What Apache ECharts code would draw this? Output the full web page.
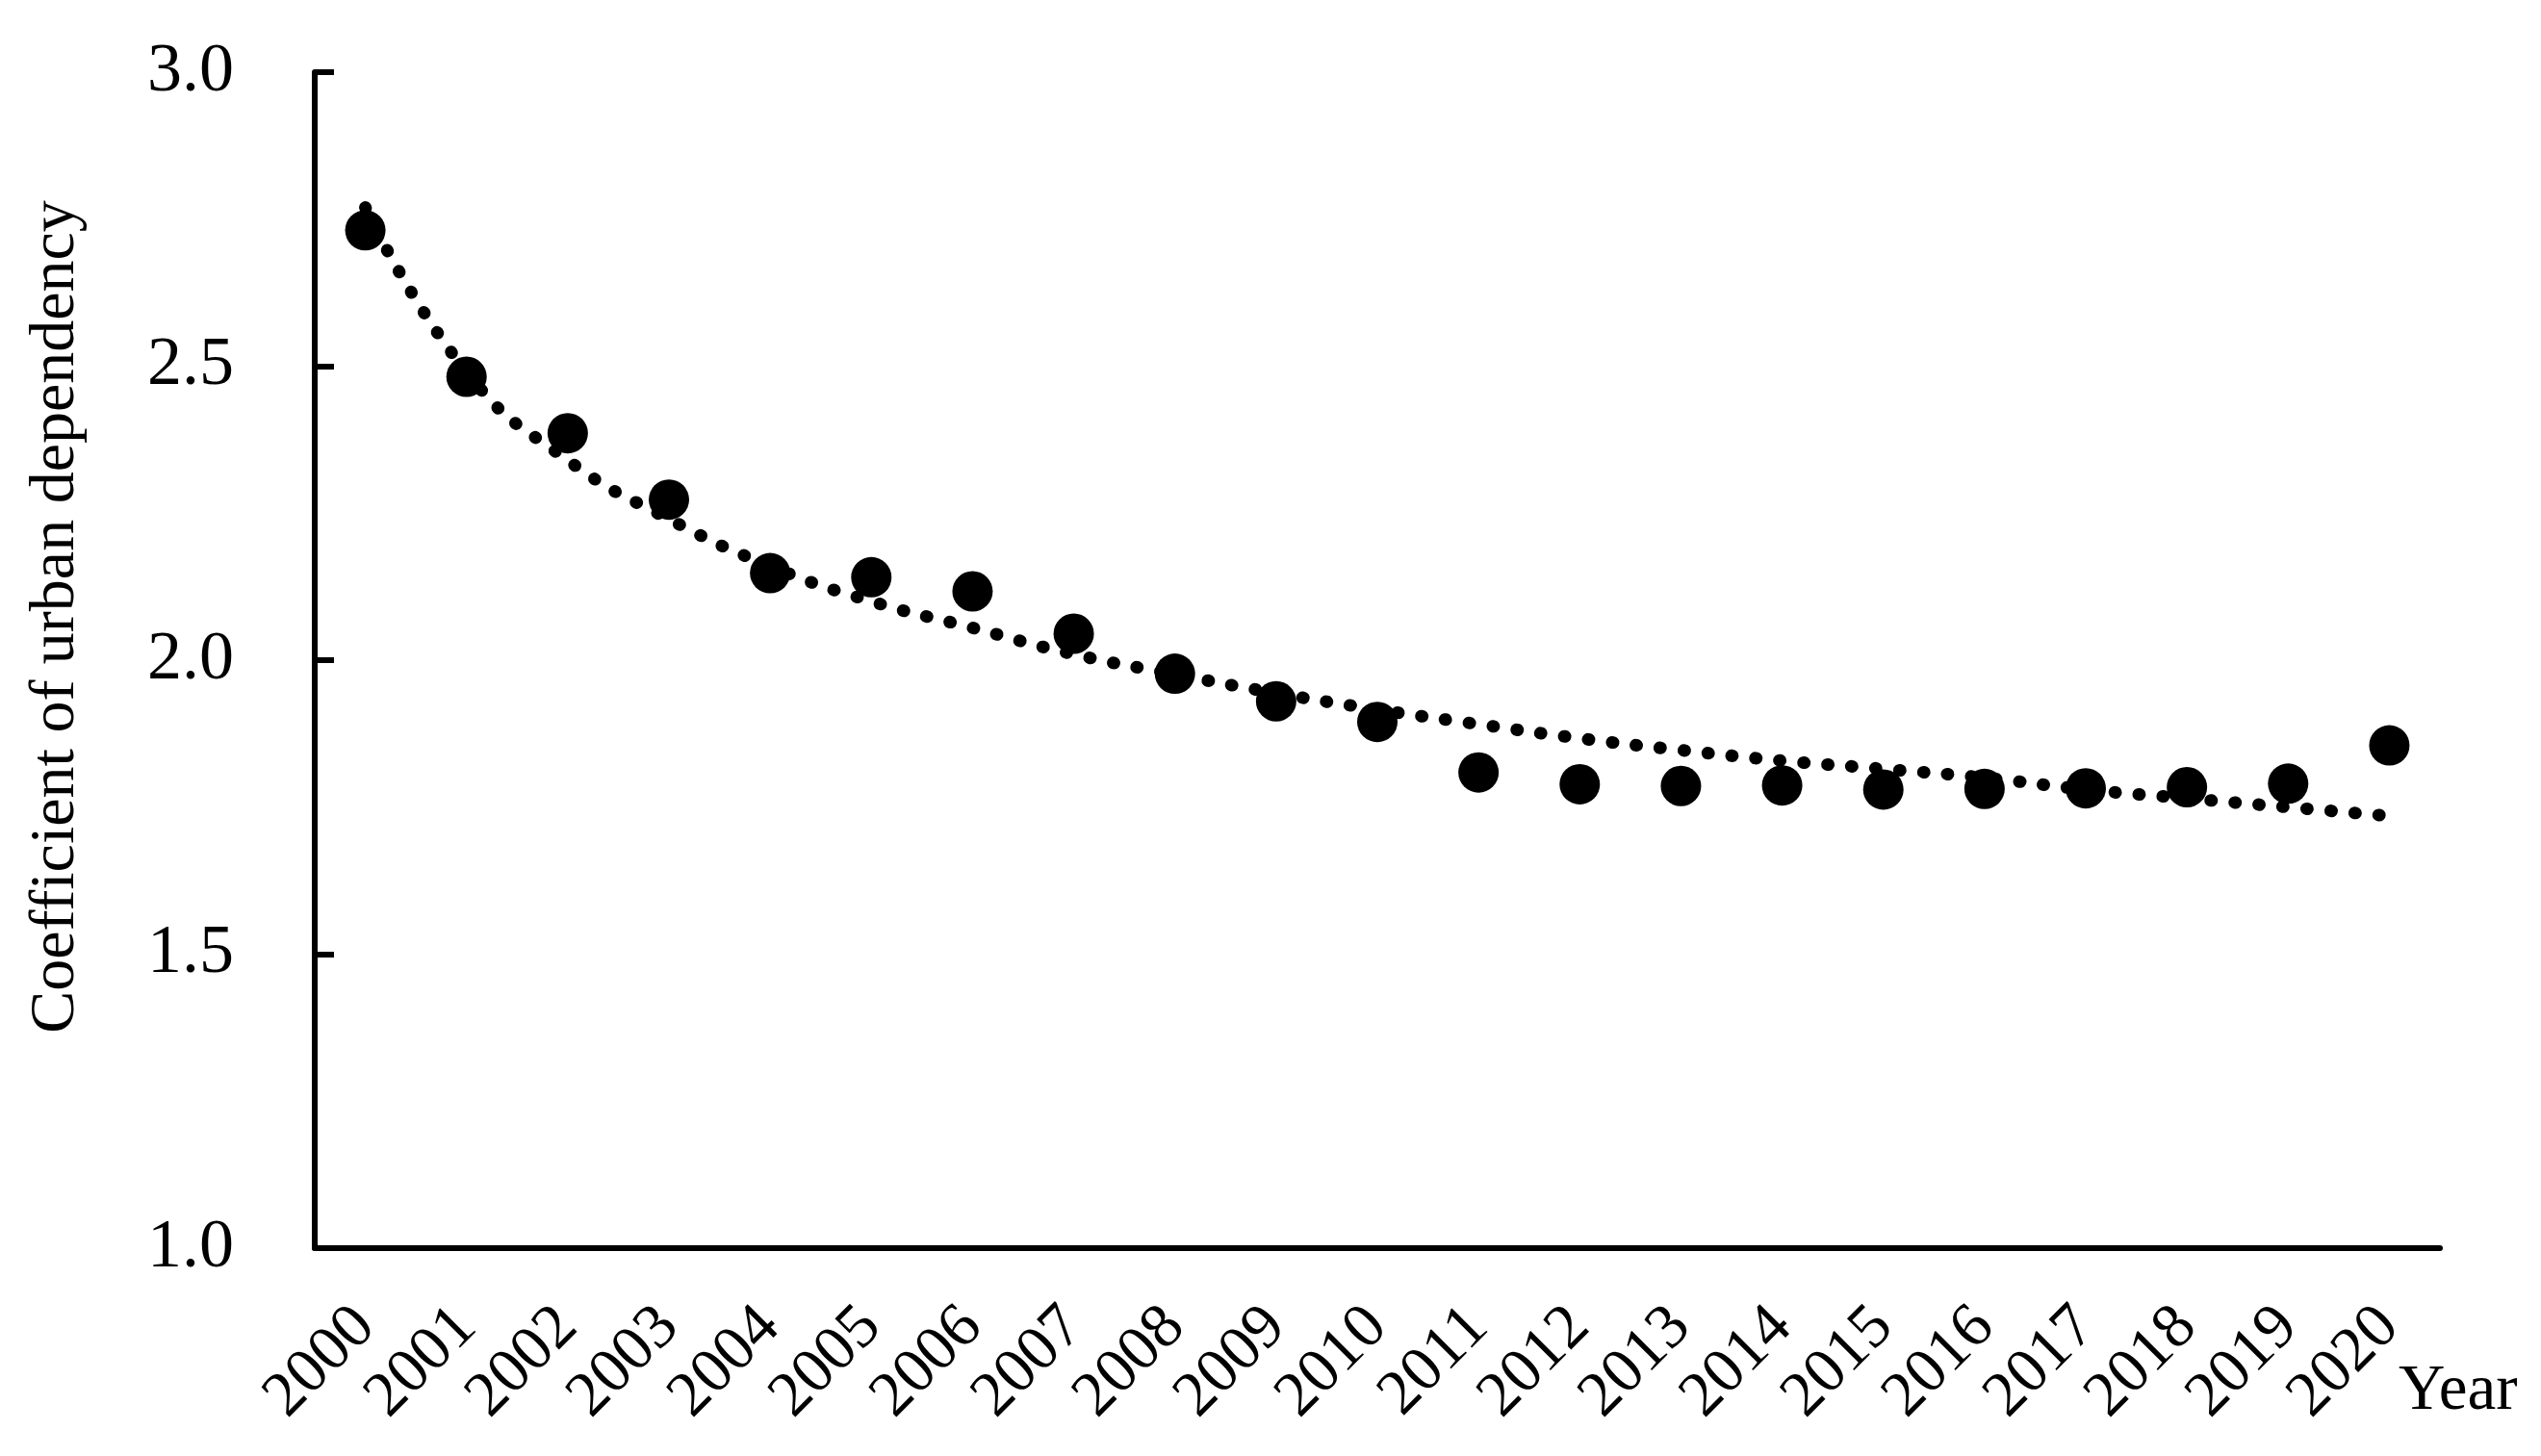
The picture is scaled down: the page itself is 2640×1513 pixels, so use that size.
<!DOCTYPE html>
<html>
<head>
<meta charset="utf-8">
<title>Coefficient of urban dependency</title>
<script src="https://cdn.jsdelivr.net/npm/echarts@6/dist/echarts.min.js"></script>
<style>
  html, body { margin: 0; padding: 0; background: #fff; }
  #chart { width: 2640px; height: 1513px; }
</style>
</head>
<body>
<div id="chart"></div>
<script>
// years on the x axis
const years = ['2000', '2001', '2002', '2003', '2004', '2005', '2006', '2007', '2008', '2009', '2010',
  '2011', '2012', '2013', '2014', '2015', '2016', '2017', '2018', '2019', '2020'];

// observed coefficient (black dots)
const coefficient = [2.731, 2.482, 2.386, 2.273, 2.148, 2.141, 2.117, 2.045, 1.977, 1.930, 1.895,
  1.809, 1.789, 1.786, 1.787, 1.780, 1.781, 1.782, 1.784, 1.790, 1.855];

// dotted trend line
const trend = [2.77, 2.49, 2.34, 2.24, 2.16, 2.10, 2.055, 2.01, 1.976, 1.944, 1.916,
  1.891, 1.867, 1.847, 1.829, 1.815, 1.80, 1.78, 1.765, 1.75, 1.735];

// y axis ticks
const yTicks = [1.0, 1.5, 2.0, 2.5, 3.0];

const FONT = '"Liberation Serif", "Times New Roman", serif';

const chart = echarts.init(document.getElementById('chart'));

const option = {
  backgroundColor: '#ffffff',
  animation: false,
  grid: {
    left: 327,
    right: 105,
    top: 75,
    bottom: 216,
    containLabel: false,
    outerBoundsMode: 'none'
  },
  xAxis: {
    type: 'category',
    data: years,
    boundaryGap: true,
    name: 'Year',
    nameLocation: 'end',
    nameGap: -43,
    nameMoveOverlap: false,
    nameTextStyle: {
      fontFamily: FONT,
      fontSize: 67,
      color: '#000',
      align: 'left',
      verticalAlign: 'top',
      padding: [116, 0, 0, 0]
    },
    axisLine: { lineStyle: { color: '#000', width: 6 } },
    axisTick: { inside: true, length: 19, lineStyle: { color: '#000', width: 6 } },
    axisLabel: {
      rotate: 45,
      margin: 72,
      interval: 0,
      fontFamily: FONT,
      fontSize: 66,
      color: '#000'
    },
    splitLine: { show: false }
  },
  yAxis: {
    type: 'value',
    min: yTicks[0],
    max: yTicks[yTicks.length - 1],
    interval: 0.5,
    name: 'Coefficient of urban dependency',
    nameLocation: 'middle',
    nameGap: 235,
    nameMoveOverlap: false,
    nameTextStyle: {
      fontFamily: FONT,
      fontSize: 66,
      color: '#000',
      padding: [0, 0, 0, 90]
    },
    axisLine: { show: true, lineStyle: { color: '#000', width: 6 } },
    axisTick: { show: true, inside: true, length: 20, lineStyle: { color: '#000', width: 6 } },
    axisLabel: {
      margin: 84,
      fontFamily: FONT,
      fontSize: 72,
      color: '#000',
      formatter: function (v) { return v.toFixed(1); }
    },
    splitLine: { show: false }
  },
  series: [
    {
      name: 'Trend',
      type: 'line',
      data: trend,
      smooth: true,
      symbol: 'none',
      z: 2,
      lineStyle: {
        color: '#000',
        width: 13,
        type: [1, 24],
        cap: 'round'
      }
    },
    {
      name: 'Coefficient',
      type: 'scatter',
      data: coefficient,
      symbol: 'circle',
      symbolSize: 42,
      z: 3,
      itemStyle: { color: '#000', opacity: 1 }
    }
  ]
};

chart.setOption(option);

window.addEventListener('resize', function () {
  chart.resize();
});
</script>
</body>
</html>
